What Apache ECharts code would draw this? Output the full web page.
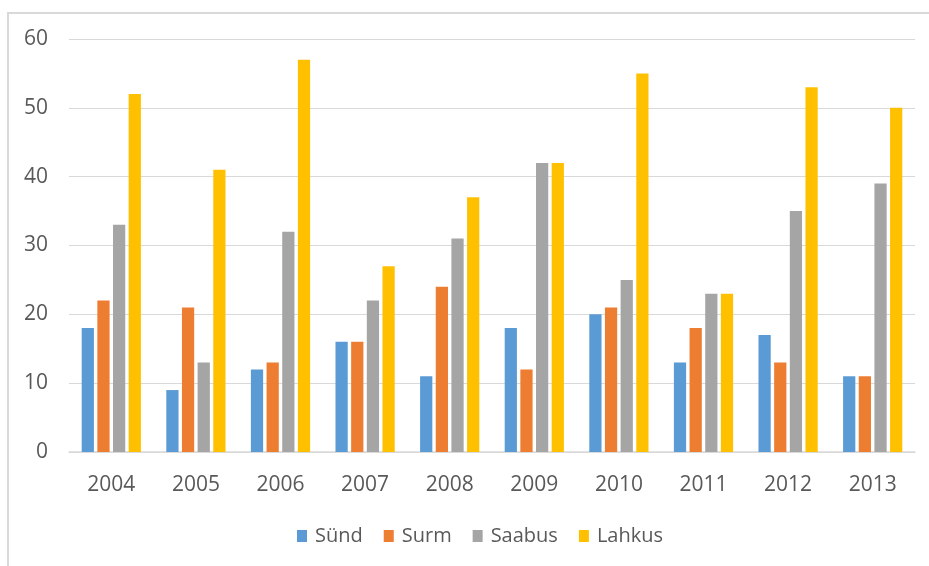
<!DOCTYPE html>
<html><head><meta charset="utf-8">
<script src="https://cdn.jsdelivr.net/npm/echarts@6/dist/echarts.min.js"></script>
<style>html,body{margin:0;padding:0;background:#fff}#c{width:929px;height:566px}</style>
</head><body><div id="c"></div>
<script>
const years = ['2004','2005','2006','2007','2008','2009','2010','2011','2012','2013'];
const synd = [18, 9, 12, 16, 11, 18, 20, 13, 17, 11];
const surm = [22, 21, 13, 16, 24, 12, 21, 18, 13, 11];
const saabus = [33, 13, 32, 22, 31, 42, 25, 23, 35, 39];
const lahkus = [52, 41, 57, 27, 37, 42, 55, 23, 53, 50];
const FONT = '"Open Sans", sans-serif';
const chart = echarts.init(document.getElementById('c'));
const mk = (name, data, color) => ({
  name, type: 'bar', data, itemStyle: { color }, barGap: '28%', barCategoryGap: '30%'
});
chart.setOption({
  animation: false,
  textStyle: { fontFamily: FONT },
  graphic: [{
    type: 'polyline', shape: { points: [[8, 566], [8, 13], [929, 13]] },
    style: { stroke: '#D9D9D9', lineWidth: 2, fill: null }
  }],
  grid: { left: 69, right: 14, top: 39, bottom: 114, containLabel: false },
  legend: {
    top: 526, left: 297, itemWidth: 10, itemHeight: 12, itemGap: 21,
    padding: 0,
    icon: 'rect',
    textStyle: { color: '#595959', fontSize: 20, fontFamily: FONT, padding: [0, 0, 0, 3] },
    data: ['Sünd', 'Surm', 'Saabus', 'Lahkus']
  },
  xAxis: {
    type: 'category', data: years,
    axisLine: { lineStyle: { color: '#D9D9D9', width: 1.5 } },
    axisTick: { show: false },
    axisLabel: { color: '#595959', fontSize: 21, margin: 23, fontFamily: FONT }
  },
  yAxis: {
    type: 'value', min: 0, max: 60, interval: 10,
    axisLine: { show: false }, axisTick: { show: false },
    splitLine: { lineStyle: { color: '#D9D9D9' } },
    axisLabel: { color: '#595959', fontSize: 21, margin: 21, fontFamily: FONT }
  },
  series: [
    mk('Sünd', synd, '#5B9BD5'),
    mk('Surm', surm, '#ED7D31'),
    mk('Saabus', saabus, '#A5A5A5'),
    mk('Lahkus', lahkus, '#FFC000')
  ]
});
</script></body></html>
